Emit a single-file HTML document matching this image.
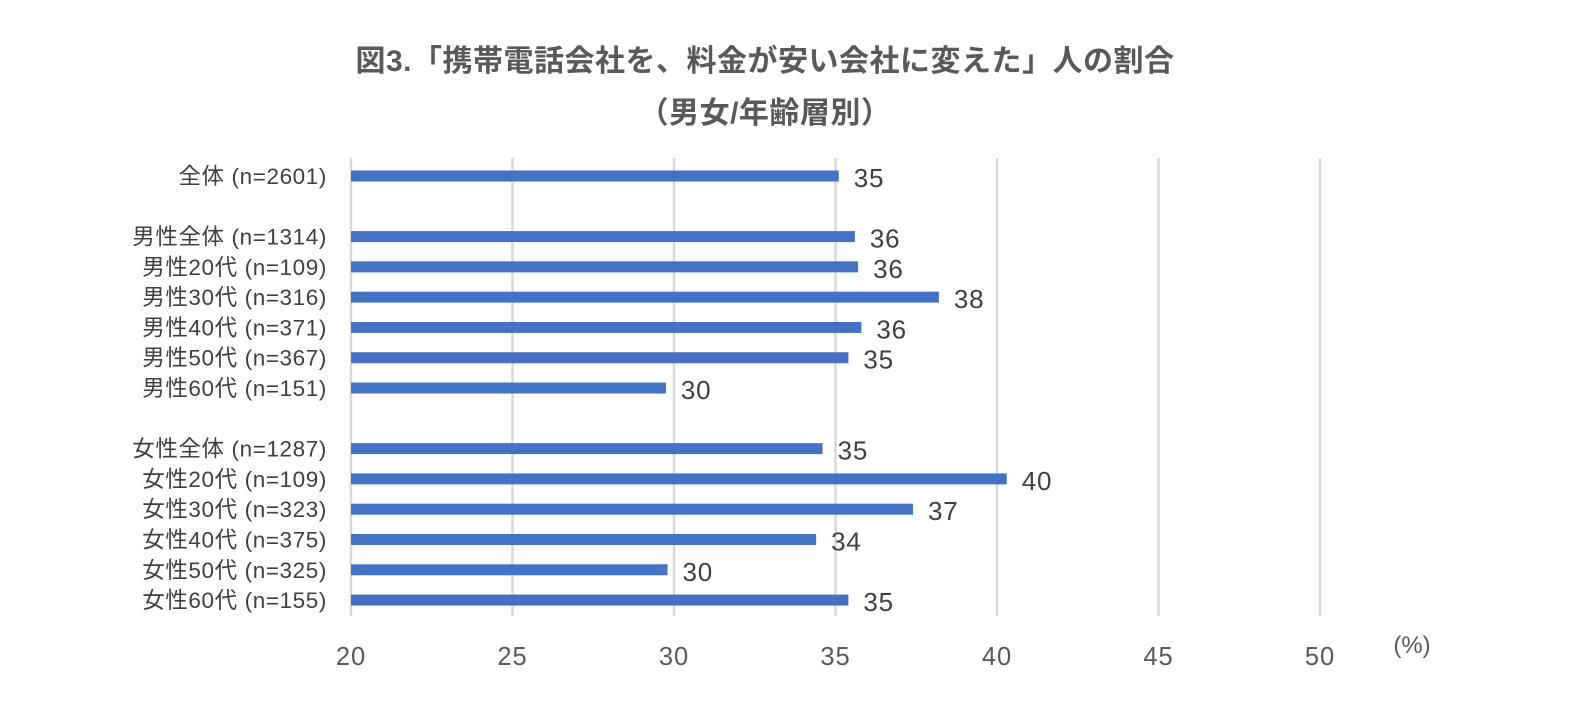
<!DOCTYPE html>
<html><head><meta charset="utf-8">
<style>
body{margin:0;background:#fff;width:1584px;height:720px;overflow:hidden;font-family:"Liberation Sans","Noto Sans CJK JP",sans-serif;}
svg text{font-family:"Liberation Sans","Noto Sans CJK JP",sans-serif;}
</style></head>
<body>
<svg id="chart" width="1584" height="720" viewBox="0 0 1584 720">
<text x="765" y="71" text-anchor="middle" font-size="30" font-weight="bold" fill="#595959" letter-spacing="0.5">図3.「携帯電話会社を、料金が安い会社に変えた」人の割合</text>
<text x="765" y="123" text-anchor="middle" font-size="30" font-weight="bold" fill="#595959" letter-spacing="0.5">（男女/年齢層別）</text>
<g id="grid"></g><g id="bars"></g><g id="labels"></g>
<text x="1412" y="653" text-anchor="middle" font-size="24" fill="#595959">(%)</text>
</svg>
<script>
const categories=["全体 (n=2601)","男性全体 (n=1314)","男性20代  (n=109)","男性30代 (n=316)","男性40代 (n=371)","男性50代 (n=367)","男性60代 (n=151)","女性全体 (n=1287)","女性20代 (n=109)","女性30代 (n=323)","女性40代 (n=375)","女性50代 (n=325)","女性60代 (n=155)"];
const slots=[0,2,3,4,5,6,7,9,10,11,12,13,14];
const values=[35.1,35.6,35.7,38.2,35.8,35.4,29.75,34.6,40.3,37.4,34.4,29.8,35.4];
const valueLabels=["35","36","36","38","36","35","30","35","40","37","34","30","35"];
const ticks=[20,25,30,35,40,45,50];
const ns="http://www.w3.org/2000/svg";
const x=v=>351+(v-20)*32.3;
const y=s=>176+s*30.29;
function mk(t,a,p){const e=document.createElementNS(ns,t);for(const k in a)e.setAttribute(k,a[k]);p.appendChild(e);return e;}
const G=document.getElementById('grid'),B=document.getElementById('bars'),L=document.getElementById('labels');
ticks.forEach(t=>{
 const l=mk('line',{x1:x(t),x2:x(t),y1:158,y2:616,stroke:'#d9d9d9','stroke-width':2.5},G);
 
 
 const tx=mk('text',{x:x(t),y:665,'text-anchor':'middle','font-size':25.5,fill:'#595959','letter-spacing':1},G);
 tx.textContent=t;
 
 
});
categories.forEach((c,i)=>{
 const yc=y(slots[i]);
 const r=mk('rect',{x:x(20),y:yc-5.5,width:x(values[i])-x(20),height:11,fill:'#4472c4'},B);
 
 
 const cl=mk('text',{x:327,y:yc+8,'text-anchor':'end','font-size':22.5,fill:'#404040','letter-spacing':0.6},L);
 cl.textContent=c;
 
 
 const vl=mk('text',{x:x(values[i])+15,y:yc+11,'font-size':26,fill:'#404040','letter-spacing':0.8},L);
 vl.textContent=valueLabels[i];
 
 
});
</script>
</body></html>
